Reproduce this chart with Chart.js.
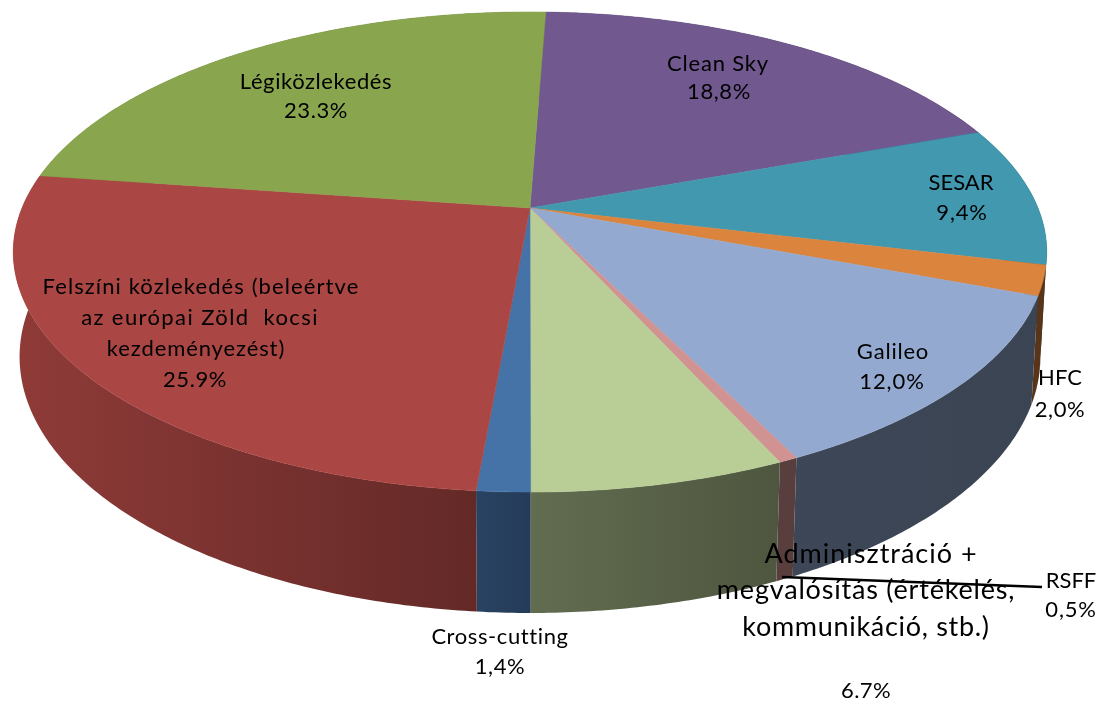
<!DOCTYPE html>
<html>
<head>
<meta charset="utf-8">
<script src="https://cdn.jsdelivr.net/npm/chart.js@4"></script>
<style>
  html, body { margin: 0; padding: 0; background: #fff; }
  canvas { display: block; filter: blur(0.4px); }
</style>
</head>
<body>
<canvas id="pie-chart" width="1100" height="701"></canvas>
<script>
// slices, clockwise from the top
const categories = ['Clean Sky', 'SESAR', 'HFC', 'Galileo', 'RSFF',
  'Adminisztráció + megvalósítás (értékelés, kommunikáció, stb.)',
  'Cross-cutting', 'Felszíni közlekedés (beleértve az európai Zöld kocsi kezdeményezést)', 'Légiközlekedés'];
const shares = [18.8, 9.4, 2.0, 12.0, 0.5, 6.7, 1.4, 25.9, 23.3];
const colors = ['#71588f', '#4198af', '#db843d', '#93a9cf', '#d19392', '#b9cd96', '#4572a7', '#aa4643', '#89a54e'];

// label text and where it sits: [text, x, y, font size, letter spacing]
const labels = [
  ['Légiközlekedés', 316, 82, 22, 0.6], ['23.3%', 316, 111, 22, 0.6],
  ['Clean Sky', 718, 64, 22, 0.8], ['18,8%', 719, 92, 22, 0.6],
  ['SESAR', 961, 183, 22, 0], ['9,4%', 962, 213, 22, 0.8],
  ['Felszíni közlekedés (beleértve', 201, 287, 22, 1.1], ['az európai Zöld  kocsi', 200, 318, 22, 1.4],
  ['kezdeményezést)', 196, 349, 22, 0.9], ['25.9%', 195, 380, 22, 0.6],
  ['Galileo', 893, 352, 22, 0.8], ['12,0%', 892, 382, 22, 0.9],
  ['HFC', 1060, 378, 22, 0], ['2,0%', 1060, 410, 22, 0.6],
  ['RSFF', 1071, 581, 22, 0], ['0,5%', 1071, 610, 22, 0.8],
  ['Cross-cutting', 500, 637, 22, 0.6], ['1,4%', 500, 667, 22, 0.6],
  ['Adminisztráció +', 871, 554, 27, 1], ['megvalósítás (értékelés,', 866, 590, 27, 0.8], ['kommunikáció, stb.)', 866, 627, 27, 0.7],
  ['6.7%', 866, 691, 22, 0.4]
];

// perspective of the tilted disc
const cam = { x: 530, y: 208, a: 508, b: 232, k: 0.1833, depth: 103.6, far: 0.012 };
// wall brightness from left to right: [x, factor]
const wallShade = [[13, 0.84], [480, 0.58], [530, 0.53], [780, 0.42], [1048, 0.4]];

function project(angle, lower) {
  var u = Math.cos(angle), v = Math.sin(angle);
  var w = 1 - cam.k * v + (lower ? cam.far : 0);
  return { x: cam.x + cam.a * u / w, y: cam.y + (cam.b * v + (lower ? cam.depth : 0)) / w };
}

function rim(start, end) {
  var pts = [];
  var n = Math.max(2, Math.ceil((end - start) / 0.01));
  for (var i = 0; i <= n; i++) pts.push(start + (end - start) * i / n);
  return pts;
}

function scaled(hex, f) {
  var n = parseInt(hex.slice(1), 16);
  return 'rgb(' + Math.round((n >> 16) * f) + ',' + Math.round(((n >> 8) & 255) * f) + ',' + Math.round((n & 255) * f) + ')';
}

const pie3d = {
  id: 'pie3d',
  // the arcs keep their angles from the library, they are only drawn tilted here
  beforeDatasetsDraw: function (chart) {
    var ctx = chart.ctx;
    var arcs = chart.getDatasetMeta(0).data;
    var x0 = wallShade[0][0], x1 = wallShade[wallShade.length - 1][0];

    arcs.forEach(function (arc, i) {
      var pts = rim(arc.startAngle, arc.endAngle);
      var grad = ctx.createLinearGradient(x0, 0, x1, 0);
      wallShade.forEach(function (s) {
        grad.addColorStop((s[0] - x0) / (x1 - x0), scaled(colors[i], s[1]));
      });
      ctx.beginPath();
      pts.forEach(function (a, j) {
        var p = project(a, false);
        if (j === 0) ctx.moveTo(p.x, p.y); else ctx.lineTo(p.x, p.y);
      });
      pts.slice().reverse().forEach(function (a) {
        var p = project(a, true);
        ctx.lineTo(p.x, p.y);
      });
      ctx.closePath();
      ctx.fillStyle = grad;
      ctx.fill();
    });

    arcs.forEach(function (arc, i) {
      ctx.beginPath();
      ctx.moveTo(cam.x, cam.y);
      rim(arc.startAngle, arc.endAngle).forEach(function (a) {
        var p = project(a, false);
        ctx.lineTo(p.x, p.y);
      });
      ctx.closePath();
      ctx.fillStyle = colors[i];
      ctx.strokeStyle = colors[i];
      ctx.lineWidth = 0.5;
      ctx.fill();
      ctx.stroke();
    });
    return false;
  },
  afterDraw: function (chart) {
    var ctx = chart.ctx;
    ctx.save();
    // RSFF leader
    ctx.beginPath();
    ctx.moveTo(782, 577);
    ctx.lineTo(1042, 587);
    ctx.lineWidth = 2.5;
    ctx.strokeStyle = '#000';
    ctx.stroke();

    ctx.fillStyle = '#000';
    ctx.textAlign = 'center';
    ctx.textBaseline = 'middle';
    labels.forEach(function (l) {
      ctx.font = l[3] + 'px Lato, "Open Sans", sans-serif';
      ctx.letterSpacing = l[4] + 'px';
      ctx.fillText(l[0], l[1], l[2]);
    });
    ctx.restore();
  }
};

new Chart(document.getElementById('pie-chart'), {
  type: 'pie',
  data: {
    labels: categories,
    datasets: [{ data: shares, backgroundColor: colors, borderWidth: 0 }]
  },
  options: {
    responsive: false,
    animation: false,
    rotation: 2.1,
    plugins: { legend: { display: false }, tooltip: { enabled: false } }
  },
  plugins: [pie3d]
});
</script>
</body>
</html>
